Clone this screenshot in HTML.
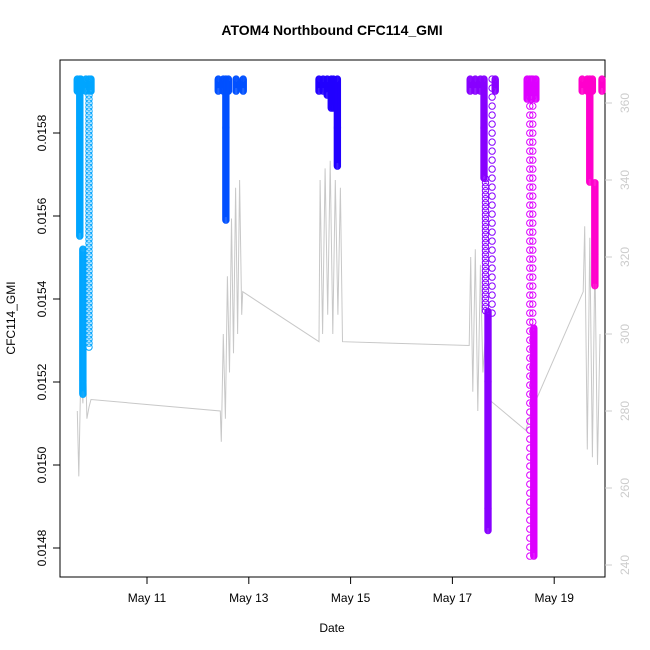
<!DOCTYPE html>
<html><head><meta charset="utf-8"><style>body{margin:0;background:#fff}svg{display:block;font-family:"Liberation Sans",sans-serif}</style></head>
<body>
<svg id="chart" width="650" height="650" viewBox="0 0 650 650" xmlns="http://www.w3.org/2000/svg">
<text x="332" y="35" text-anchor="middle" font-size="14" font-weight="bold">ATOM4 Northbound CFC114_GMI</text>
<rect x="60" y="60" width="545" height="517" fill="none" stroke="#000"/>
<text x="332" y="632" text-anchor="middle" font-size="12">Date</text>
<text transform="translate(15,318) rotate(-90)" text-anchor="middle" font-size="12">CFC114_GMI</text>
<g id="gray"></g><g id="marks"></g><g id="axes"></g>
</svg>
<script>
const xTickDays=[11,13,15,17,19];
const xTickLabels=["May 11","May 13","May 15","May 17","May 19"];
const yTicks=[0.0148,0.0150,0.0152,0.0154,0.0156,0.0158];
const yTickLabels=["0.0148","0.0150","0.0152","0.0154","0.0156","0.0158"];
const y2Ticks=[240,260,280,300,320,340,360];
const clusterColors=["#00A5FF","#0050FF","#2200FF","#8800FF","#DD00FF","#FF00CC"];
// columns of observations: cluster index, day, top value, bottom value, density (1 dense, 2 medium, 0 sparse)
const colCluster=[0,0,0,0,0,0,0, 1,1,1,1,1,1, 2,2,2,2,2,2, 3,3,3,3,3,3,3,3, 4,4,4,4,4,4, 5,5,5,5,5,5];
const colDay=[9.63,9.70,9.80,9.90,9.68,9.74,9.86, 12.40,12.50,12.60,12.75,12.89,12.55, 14.38,14.46,14.54,14.62,14.66,14.74, 17.35,17.45,17.55,17.62,17.65,17.70,17.78,17.84, 18.47,18.55,18.64,18.52,18.60,18.58, 19.55,19.65,19.75,19.94,19.70,19.80];
const colTop=[0.01593,0.01593,0.01593,0.01593,0.01593,0.01552,0.01593, 0.01593,0.01593,0.01593,0.01593,0.01593,0.01593, 0.01593,0.01593,0.01593,0.01593,0.01593,0.01593, 0.01593,0.01593,0.01593,0.01593,0.01569,0.01537,0.01593,0.01593, 0.01593,0.01593,0.01593,0.01593,0.01533,0.01593, 0.01593,0.01593,0.01593,0.01593,0.01593,0.01568];
const colBottom=[0.01590,0.01590,0.01590,0.01590,0.01555,0.01517,0.01528, 0.01590,0.01590,0.01590,0.01590,0.01590,0.01559, 0.01590,0.01590,0.01589,0.01586,0.01586,0.01572, 0.01590,0.01590,0.01590,0.01569,0.01537,0.01484,0.01535,0.01590, 0.01588,0.01588,0.01588,0.01478,0.01478,0.01513, 0.01590,0.01590,0.01590,0.01590,0.01568,0.01543];
const colDense=[1,1,1,1,1,1,2, 1,1,1,1,1,1, 1,1,1,1,1,1, 1,1,1,1,2,1,0,1, 1,1,1,0,1,0, 1,1,1,1,1,1];
const grayDays=[9.63,9.66,9.70,9.74,9.78,9.82,9.86,9.90,12.44,12.46,12.50,12.54,12.58,12.62,12.66,12.70,12.74,12.78,12.82,12.86,12.88,14.38,14.40,14.45,14.50,14.55,14.60,14.65,14.70,14.75,14.80,14.84,17.33,17.36,17.40,17.45,17.50,17.55,17.60,17.65,17.72,18.44,18.55,19.57,19.60,19.65,19.70,19.75,19.80,19.85,19.90];
const grayValues=[280,263,290,282,300,278,281,283,280,272,300,278,315,290,330,295,338,300,340,305,311,298,340,300,343,305,345,300,340,305,338,298,297,320,285,322,280,318,290,300,283,275,280,311,328,270,325,268,320,266,300];
const NS="http://www.w3.org/2000/svg";
const xS=d=>147+(d-11)*50.9;
const yS=v=>548-(v-0.0148)/0.0002*83;
const y2S=v=>565-(v-240)/20*77;
function mk(tag,attrs,parent){const e=document.createElementNS(NS,tag);for(const k in attrs)e.setAttribute(k,attrs[k]);parent.appendChild(e);return e;}
const gG=document.getElementById('gray'),gM=document.getElementById('marks'),gA=document.getElementById('axes');
const line=mk('polyline',{points:grayDays.map((d,i)=>xS(d).toFixed(1)+','+y2S(grayValues[i]).toFixed(1)).join(' '),fill:'none',stroke:'#c8c8c8','stroke-width':1},gG);


const groups=clusterColors.map((c,i)=>{
 const g=mk('g',{fill:'none',stroke:c,'stroke-width':1},gM);
 
 
 return g;
});
colDay.forEach((d,i)=>{
 const g=groups[colCluster[i]];
 const x=xS(d),y1=yS(colTop[i]),y2=yS(colBottom[i]);
 const step=colDense[i]===1?1:(colDense[i]===2?4:9);
 for(let y=y1;y<=y2+0.01;y+=step){
  const p=mk('circle',{cx:x.toFixed(1),cy:y.toFixed(1),r:3.2},g);
  
  
 }
});
xTickDays.forEach((d,i)=>{
 const x=xS(d);
 mk('line',{x1:x,x2:x,y1:577,y2:584,stroke:'#000'},gA);
 const t=mk('text',{x:x,y:602,'text-anchor':'middle','font-size':12},gA);t.textContent=xTickLabels[i];
 
 
});
yTicks.forEach((v,i)=>{
 const y=yS(v);
 mk('line',{x1:53,x2:60,y1:y,y2:y,stroke:'#000'},gA);
 const t=mk('text',{transform:`translate(46,${y}) rotate(-90)`,'text-anchor':'middle','font-size':12},gA);t.textContent=yTickLabels[i];
 
 
});
y2Ticks.forEach(v=>{
 const y=y2S(v);
 mk('line',{x1:605,x2:612,y1:y,y2:y,stroke:'#ccc'},gA);
 const t=mk('text',{transform:`translate(629,${y}) rotate(-90)`,'text-anchor':'middle','font-size':12,fill:'#ccc'},gA);t.textContent=String(v);
 
 
});
</script>
</body></html>
